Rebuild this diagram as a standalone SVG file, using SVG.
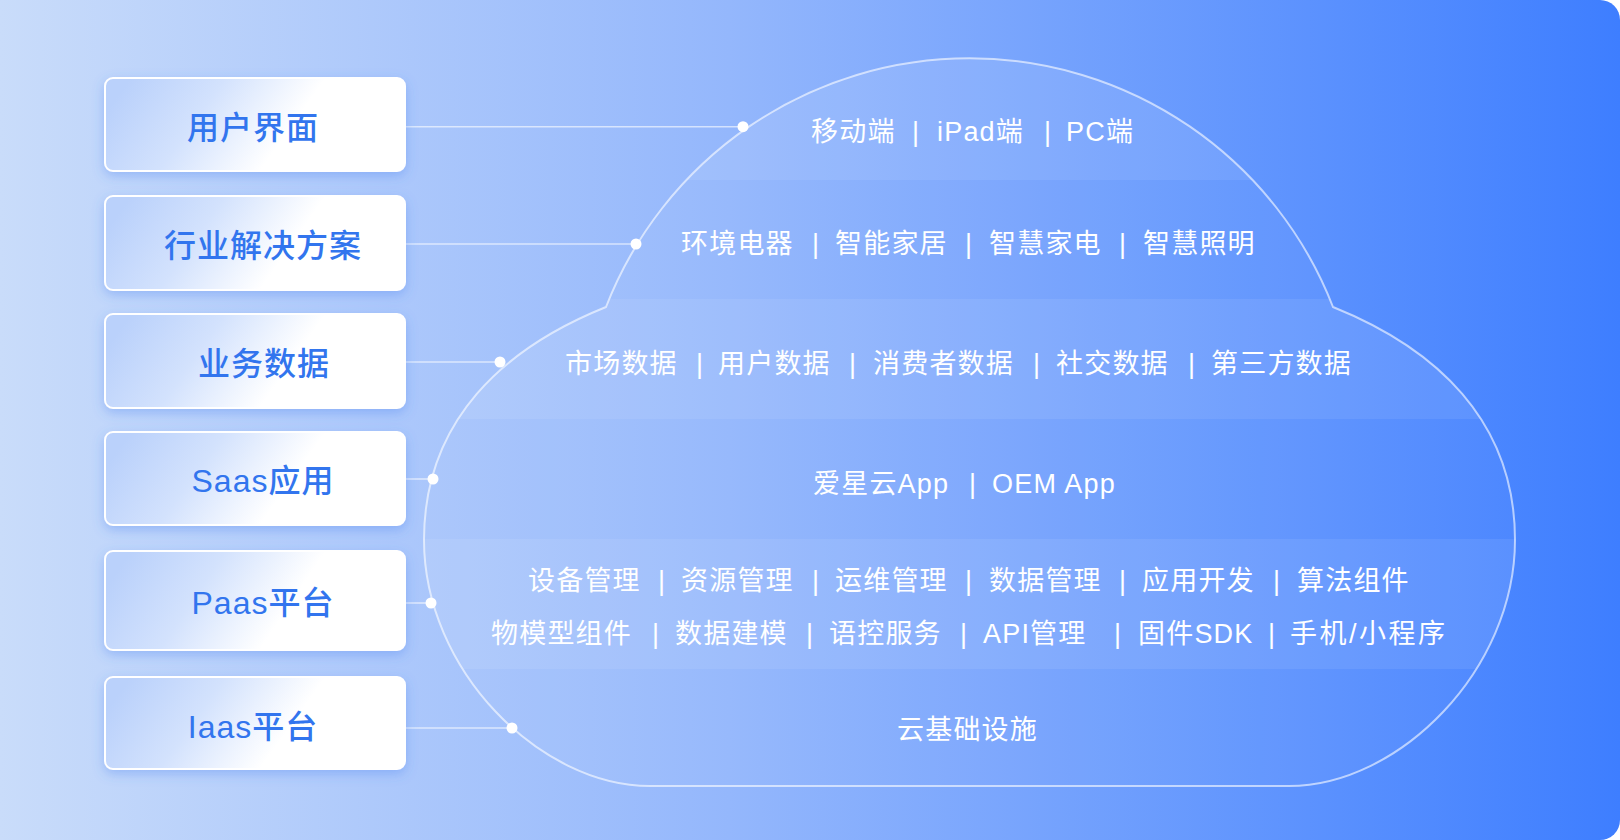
<svg xmlns="http://www.w3.org/2000/svg" width="1620" height="840" viewBox="0 0 1620 840">
  <defs>
    <linearGradient id="bg" x1="0" y1="0" x2="1" y2="0">
      <stop offset="0" stop-color="#c9dcfa"/>
      <stop offset="0.45" stop-color="#94b7fc"/>
      <stop offset="1" stop-color="#3e7eff"/>
    </linearGradient>
    <linearGradient id="boxg" x1="0" y1="0.39" x2="1" y2="0.61">
      <stop offset="0" stop-color="#bad1fb"/>
      <stop offset="0.3" stop-color="#d3e2fd"/>
      <stop offset="0.62" stop-color="#ffffff"/>
      <stop offset="1" stop-color="#ffffff"/>
    </linearGradient>
    <filter id="shadow" x="-20%" y="-30%" width="140%" height="170%">
      <feDropShadow dx="0" dy="4" stdDeviation="6" flood-color="#3f7cf0" flood-opacity="0.35"/>
    </filter>
    <clipPath id="cloudClip">
      <path d="M606 307 A390 390 0 0 1 1333 307 C1435 348 1515 420 1515 540 C1515 670 1399 786 1289 786 L650 786 C540 786 424 670 424 540 C424 420 504 348 606 307 Z"/>
    </clipPath>
    <style>
      .box { fill: url(#boxg); stroke: #ffffff; stroke-width: 2; filter: url(#shadow); }
      .label { font-family: "Liberation Sans", "Noto Sans CJK SC", sans-serif; font-size: 32px; font-weight: 500; fill: #3275ee; letter-spacing: 1px; text-anchor: middle; }
      .item { font-family: "Liberation Sans", "Noto Sans CJK SC", sans-serif; font-size: 27px; fill: #ffffff; letter-spacing: 1.2px; }
      .sep { font-family: "Liberation Sans", "Noto Sans CJK SC", sans-serif; font-size: 27px; fill: #ffffff; }
      .conn { stroke: #ffffff; stroke-opacity: 0.6; stroke-width: 1.6; fill: none; }
      .dot { fill: #ffffff; }
      .band { fill: #ffffff; }
    </style>
  </defs>

  <rect x="0" y="0" width="1620" height="840" fill="#ffffff"/>
  <path d="M0 0 H1600 A20 20 0 0 1 1620 20 V820 A20 20 0 0 1 1600 840 H0 Z" fill="url(#bg)"/>

  <!-- cloud -->
  <g id="cloud">
    <g clip-path="url(#cloudClip)">
      <rect class="band" x="400" y="40" width="1140" height="140" fill-opacity="0.1"/>
      <rect class="band" x="400" y="180" width="1140" height="119" fill-opacity="0.03"/>
      <rect class="band" x="400" y="299" width="1140" height="120" fill-opacity="0.1"/>
      <rect class="band" x="400" y="419" width="1140" height="120" fill-opacity="0.03"/>
      <rect class="band" x="400" y="539" width="1140" height="130" fill-opacity="0.1"/>
      <rect class="band" x="400" y="669" width="1140" height="130" fill-opacity="0.03"/>
    </g>
    <path d="M606 307 A390 390 0 0 1 1333 307 C1435 348 1515 420 1515 540 C1515 670 1399 786 1289 786 L650 786 C540 786 424 670 424 540 C424 420 504 348 606 307 Z" fill="none" stroke="#ffffff" stroke-opacity="0.6" stroke-width="2"/>

    <text class="item" y="140.5"><tspan x="811">移动端</tspan><tspan class="sep" x="912">|</tspan><tspan x="937">iPad端</tspan><tspan class="sep" x="1044">|</tspan><tspan x="1066">PC端</tspan></text>
    <text class="item" y="253"><tspan x="681">环境电器</tspan><tspan class="sep" x="812">|</tspan><tspan x="835">智能家居</tspan><tspan class="sep" x="965">|</tspan><tspan x="989">智慧家电</tspan><tspan class="sep" x="1119">|</tspan><tspan x="1143">智慧照明</tspan></text>
    <text class="item" y="373"><tspan x="565">市场数据</tspan><tspan class="sep" x="696">|</tspan><tspan x="718">用户数据</tspan><tspan class="sep" x="849">|</tspan><tspan x="873">消费者数据</tspan><tspan class="sep" x="1033">|</tspan><tspan x="1056">社交数据</tspan><tspan class="sep" x="1188">|</tspan><tspan x="1211">第三方数据</tspan></text>
    <text class="item" y="492.5"><tspan x="813">爱星云App</tspan><tspan class="sep" x="969">|</tspan><tspan x="992">OEM App</tspan></text>
    <text class="item" y="589.5"><tspan x="528">设备管理</tspan><tspan class="sep" x="658">|</tspan><tspan x="681">资源管理</tspan><tspan class="sep" x="812">|</tspan><tspan x="835">运维管理</tspan><tspan class="sep" x="965">|</tspan><tspan x="989">数据管理</tspan><tspan class="sep" x="1119">|</tspan><tspan x="1142">应用开发</tspan><tspan class="sep" x="1273">|</tspan><tspan x="1297">算法组件</tspan></text>
    <text class="item" y="642.5"><tspan x="491">物模型组件</tspan><tspan class="sep" x="652">|</tspan><tspan x="675">数据建模</tspan><tspan class="sep" x="806">|</tspan><tspan x="829">语控服务</tspan><tspan class="sep" x="960">|</tspan><tspan x="983">API管理</tspan><tspan class="sep" x="1114">|</tspan><tspan x="1138">固件SDK</tspan><tspan class="sep" x="1268">|</tspan><tspan x="1290" letter-spacing="2.5">手机/小程序</tspan></text>
    <text class="item" y="739"><tspan x="897">云基础设施</tspan></text>
  </g>

  <!-- connectors -->
  <g id="connectors">
    <line class="conn" x1="405" y1="126.7" x2="743" y2="126.7"/>
    <line class="conn" x1="405" y1="244" x2="636" y2="244"/>
    <line class="conn" x1="405" y1="362" x2="500" y2="362"/>
    <line class="conn" x1="405" y1="479" x2="433" y2="479"/>
    <line class="conn" x1="405" y1="603" x2="431" y2="603"/>
    <line class="conn" x1="405" y1="728" x2="512" y2="728"/>
    <circle class="dot" cx="743" cy="126.7" r="5.5"/>
    <circle class="dot" cx="636" cy="244" r="5.5"/>
    <circle class="dot" cx="500" cy="362" r="5.5"/>
    <circle class="dot" cx="433" cy="479" r="5.5"/>
    <circle class="dot" cx="431" cy="603" r="5.5"/>
    <circle class="dot" cx="512" cy="728" r="5.5"/>
  </g>

  <!-- nodes -->
  <g id="node-ui">
    <rect class="box" x="105" y="78" width="300" height="93" rx="8"/>
    <text class="label" x="253" y="139">用户界面</text>
  </g>
  <g id="node-industry">
    <rect class="box" x="105" y="196" width="300" height="94" rx="8"/>
    <text class="label" x="263" y="257">行业解决方案</text>
  </g>
  <g id="node-business">
    <rect class="box" x="105" y="314" width="300" height="94" rx="8"/>
    <text class="label" x="264" y="375">业务数据</text>
  </g>
  <g id="node-saas">
    <rect class="box" x="105" y="432" width="300" height="93" rx="8"/>
    <text class="label" x="263" y="492">Saas应用</text>
  </g>
  <g id="node-paas">
    <rect class="box" x="105" y="551" width="300" height="99" rx="8"/>
    <text class="label" x="263" y="614">Paas平台</text>
  </g>
  <g id="node-iaas">
    <rect class="box" x="105" y="677" width="300" height="92" rx="8"/>
    <text class="label" x="253" y="738">Iaas平台</text>
  </g>
</svg>
